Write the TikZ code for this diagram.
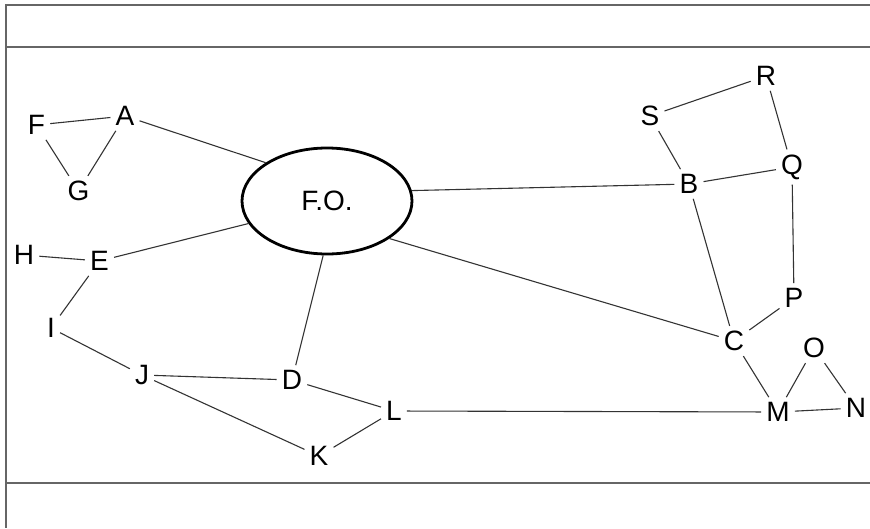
\documentclass[tikz,border=0pt]{standalone}
\usepackage{fontspec}
\setmainfont{Liberation Sans}
\usetikzlibrary{shapes.geometric}
\begin{document}
\begin{tikzpicture}[x=1pt,y=-1pt,
  lbl/.style={inner sep=5pt, font=\fontsize{28}{32}\selectfont},
  edge/.style={line width=1.1pt, draw=black!80},
  frame/.style={line width=1.6pt, draw=black!60},
  bigell/.style={draw=black, ellipse, line width=2.8pt, minimum width=170pt, minimum height=106pt, inner sep=0pt, font=\fontsize{28}{32}\selectfont}]
\useasboundingbox (0,0) rectangle (870,528);
% frame
\coordinate (tl) at (6,5);
\coordinate (tr) at (870,5);
\coordinate (ml) at (6,47);
\coordinate (mr) at (870,47);
\coordinate (bl) at (6,483);
\coordinate (br) at (870,483);
\coordinate (ll) at (6,528);
\draw[frame] (tr) -- (tl) -- (ll);
\draw[frame] (ml) -- (mr);
\draw[frame] (bl) -- (br);
% nodes
\node[bigell] (fo) at (327,201) {F.O.};
\node[lbl] (A) at (125,116) {A};
\node[lbl] (F) at (36.5,125) {F};
\node[lbl] (G) at (78.5,191) {G};
\node[lbl] (H) at (24,255) {H};
\node[lbl] (E) at (99.5,261) {E};
\node[lbl] (I) at (51,328) {I};
\node[lbl] (J) at (142,375) {J};
\node[lbl] (D) at (292,380) {D};
\node[lbl] (L) at (394,411) {L};
\node[lbl] (K) at (319,456) {K};
\node[lbl] (R) at (766,76) {R};
\node[lbl] (S) at (650,116) {S};
\node[lbl] (Q) at (792,167) {Q};
\node[lbl] (B) at (689,184) {B};
\node[lbl] (P) at (794,298) {P};
\node[lbl] (C) at (734,341) {C};
\node[lbl] (O) at (814,348) {O};
\node[lbl] (M) at (778,412) {M};
\node[lbl] (N) at (856,408) {N};
% edges
\draw[edge] (F) -- (A);
\draw[edge] (F) -- (G);
\draw[edge] (G) -- (A);
\draw[edge] (A) -- (fo.148);
\draw[edge] (fo.7) -- (B);
\draw[edge] (fo.196) -- (E);
\draw[edge] (fo.266) -- (D);
\draw[edge] (fo.329) -- (C);
\draw[edge] (H) -- (E);
\draw[edge] (E) -- (I);
\draw[edge] (I) -- (J);
\draw[edge] (J) -- (D);
\draw[edge] (J) -- (K);
\draw[edge] (D) -- (L);
\draw[edge] (K) -- (L);
\draw[edge] (L) -- (M);
\draw[edge] (B) -- (S);
\draw[edge] (S) -- (R);
\draw[edge] (R) -- (Q);
\draw[edge] (B) -- (Q);
\draw[edge] (Q) -- (P);
\draw[edge] (B) -- (C);
\draw[edge] (P) -- (C);
\draw[edge] (C) -- (M);
\draw[edge] (M) -- (O);
\draw[edge] (O) -- (N);
\draw[edge] (M) -- (N);
\end{tikzpicture}
\end{document}
